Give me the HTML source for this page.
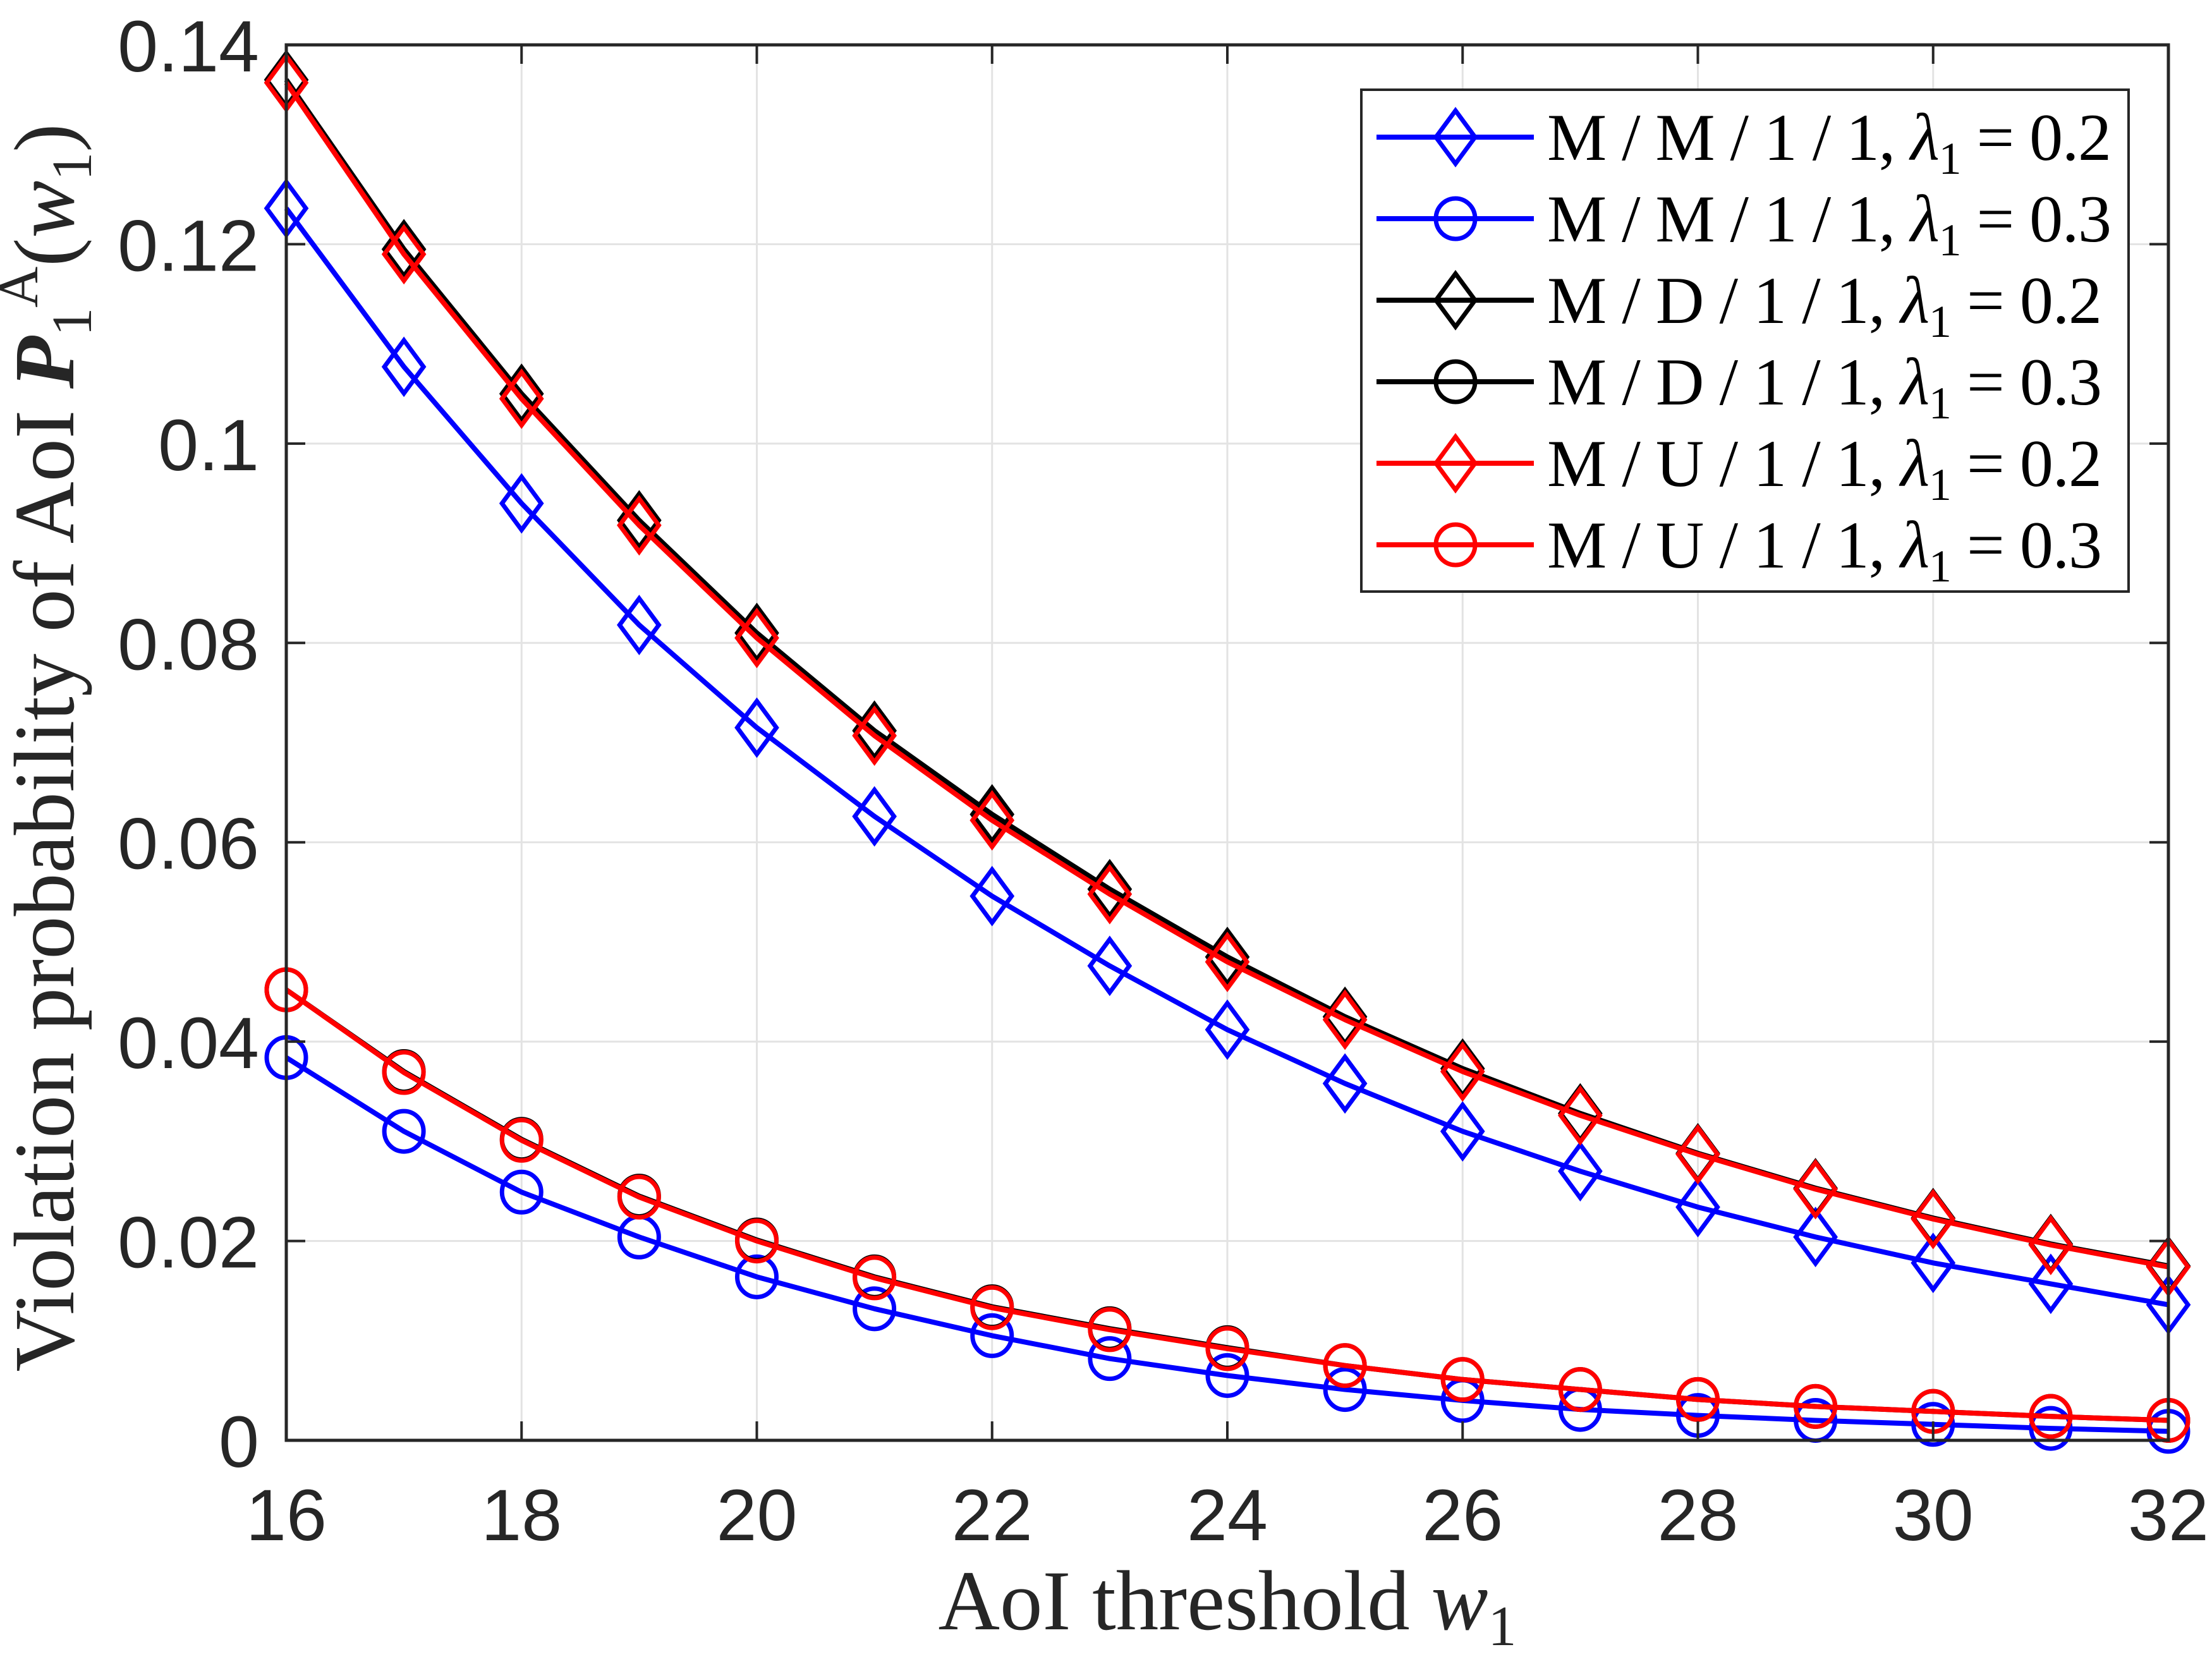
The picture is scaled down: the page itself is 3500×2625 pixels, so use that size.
<!DOCTYPE html>
<html><head><meta charset="utf-8"><style>
html,body{margin:0;padding:0;background:#fff;}
svg{display:block;}
.tick{font-family:"Liberation Sans",sans-serif;font-size:115px;fill:#262626;}
.ser{font-family:"Liberation Serif",serif;fill:#262626;}
.leg{font-family:"Liberation Serif",serif;font-size:106px;fill:#000;}
</style></head><body>
<svg id="chart" width="3500" height="2625" viewBox="0 0 3500 2625" xmlns="http://www.w3.org/2000/svg">
<rect width="3500" height="2625" fill="#fff"/>
<g id="grid"></g>
<g id="series"></g>
<rect x="453" y="71" width="2978" height="2208" fill="none" stroke="#262626" stroke-width="5"/>
<g id="ticks"></g>
<text class="ser" x="1942" y="2578" font-size="135" text-anchor="middle">AoI threshold <tspan font-style="italic">w</tspan><tspan font-size="90" dy="25">1</tspan></text>
<text class="ser" font-size="136" text-anchor="middle" transform="translate(116,1183) rotate(-90)">Violation probability of AoI <tspan font-style="italic" font-weight="bold">P</tspan><tspan font-size="90" dy="28">1</tspan><tspan font-size="90" dy="-85">A</tspan><tspan dy="57">(</tspan><tspan font-style="italic">w</tspan><tspan font-size="90" dy="28">1</tspan><tspan dy="-28">)</tspan></text>
<g id="legend">
<rect x="2154" y="142" width="1214" height="794" fill="#fff" stroke="#262626" stroke-width="4"/>
</g>
</svg>
<script>
const xValues=[16,17,18,19,20,21,22,23,24,25,26,27,28,29,30,31,32];
const mm02=[0.1236,0.1077,0.094,0.0818,0.0715,0.0626,0.0546,0.0476,0.0412,0.0358,0.031,0.027,0.0234,0.0204,0.0178,0.0157,0.0136];
const mm03=[0.0384,0.031,0.0249,0.0204,0.0164,0.0132,0.0105,0.0082,0.0065,0.0051,0.004,0.0031,0.0025,0.002,0.0016,0.0012,0.0009];
const md02=[0.1365,0.1195,0.105,0.0923,0.081,0.0712,0.0628,0.0553,0.0485,0.0425,0.0373,0.0328,0.0288,0.0253,0.0223,0.0197,0.0175];
const md03=[0.0452,0.037,0.0302,0.0245,0.0201,0.0164,0.0134,0.0112,0.0093,0.0075,0.0061,0.0051,0.0041,0.0034,0.0029,0.0024,0.002];
const mu02=[0.1362,0.119,0.1045,0.0918,0.0805,0.0707,0.0622,0.0548,0.048,0.0422,0.037,0.0326,0.0287,0.0252,0.0222,0.0196,0.0174];
const mu03=[0.0452,0.0369,0.0301,0.0244,0.02,0.0163,0.0133,0.0111,0.0092,0.0075,0.0061,0.0051,0.0041,0.0034,0.0029,0.0024,0.002];
const xTicks=[16,18,20,22,24,26,28,30,32];
const yTicks=[0,0.02,0.04,0.06,0.08,0.1,0.12,0.14];
const yTickLabels=["0","0.02","0.04","0.06","0.08","0.1","0.12","0.14"];
const legendLabels=["M/M/1/1","M/M/1/1","M/D/1/1","M/D/1/1","M/U/1/1","M/U/1/1"];
const legendLambda=["0.2","0.3","0.2","0.3","0.2","0.3"];

const L=453,R=3431,T=71,B=2279;
const sx=v=>L+(v-16)/16*(R-L);
const sy=v=>B-v/0.14*(B-T);
const NS="http://www.w3.org/2000/svg";
function mk(tag,attrs,parent){const e=document.createElementNS(NS,tag);for(const k in attrs)e.setAttribute(k,attrs[k]);parent.appendChild(e);return e;}
const grid=document.getElementById('grid'),ticks=document.getElementById('ticks'),ser=document.getElementById('series'),leg=document.getElementById('legend');
xTicks.forEach(t=>{
  const g=mk('line',{x1:sx(t),x2:sx(t),y1:T,y2:B,stroke:'#e3e3e3','stroke-width':3},grid);
  
  
  const a=mk('line',{x1:sx(t),x2:sx(t),y1:B,y2:B-30,stroke:'#262626','stroke-width':4},ticks);
  
  
  const b=mk('line',{x1:sx(t),x2:sx(t),y1:T,y2:T+30,stroke:'#262626','stroke-width':4},ticks);
  
  
  const tx=mk('text',{x:sx(t),y:2437,'text-anchor':'middle',class:'tick'},ticks);
  
  
  tx.textContent=t;
});
yTicks.forEach((t,i)=>{
  const g=mk('line',{x1:L,x2:R,y1:sy(t),y2:sy(t),stroke:'#e3e3e3','stroke-width':3},grid);
  
  
  const a=mk('line',{x1:L,x2:L+30,y1:sy(t),y2:sy(t),stroke:'#262626','stroke-width':4},ticks);
  
  
  const b=mk('line',{x1:R,x2:R-30,y1:sy(t),y2:sy(t),stroke:'#262626','stroke-width':4},ticks);
  
  
  const tx=mk('text',{x:410,y:sy(t)+42,'text-anchor':'end',class:'tick'},ticks);
  
  
  tx.textContent=yTickLabels[i];
});
function marker(type,x,y,color,parent){
  let m;
  if(type==='d') m=mk('polygon',{points:`${x},${y-42} ${x+31},${y} ${x},${y+42} ${x-31},${y}`,fill:'none',stroke:color,'stroke-width':7},parent);
  else m=mk('ellipse',{cx:x,cy:y,rx:31,ry:32,fill:'none',stroke:color,'stroke-width':7},parent);
  return m;
}
const series=[[mm02,'#0000ff','d','mm-lambda-0.2'],[mm03,'#0000ff','o','mm-lambda-0.3'],[md02,'#000','d','md-lambda-0.2'],[md03,'#000','o','md-lambda-0.3'],[mu02,'#ff0000','d','mu-lambda-0.2'],[mu03,'#ff0000','o','mu-lambda-0.3']];
series.forEach(([vals,c,t,n])=>{
  const g=mk('g',{},ser);
  
  
  const p=mk('polyline',{points:vals.map((v,i)=>sx(xValues[i])+','+sy(v)).join(' '),fill:'none',stroke:c,'stroke-width':8,'stroke-linejoin':'round'},g);
  
  
  vals.forEach((v,i)=>{
    const m=marker(t,sx(xValues[i]),sy(v),c,g);
    
    
  });
});
series.forEach(([vals,c,t,n],i)=>{
  const y=217+i*129;
  const g=mk('g',{},leg);
  
  
  mk('line',{x1:2178,x2:2427,y1:y,y2:y,stroke:c,'stroke-width':8},g);
  marker(t,2303,y,c,g);
  const tx=mk('text',{x:2448,y:y+36,class:'leg',textLength:(i<2?893:878),lengthAdjust:'spacing'},g);
  tx.innerHTML=legendLabels[i].split('/').join(' / ')+', <tspan font-style="italic">λ</tspan><tspan font-size="72" dy="22">1</tspan><tspan dy="-22"> = '+legendLambda[i]+'</tspan>';
});
</script>
</body></html>
